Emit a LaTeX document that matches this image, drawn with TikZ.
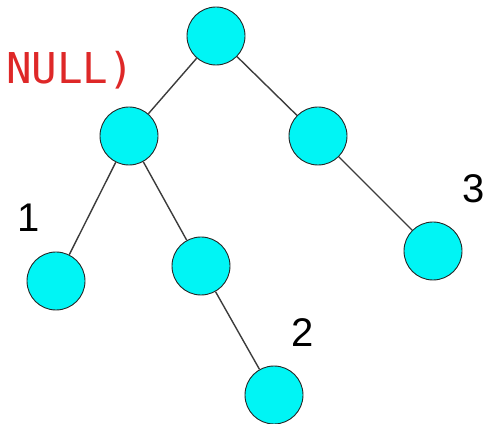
\documentclass[tikz,border=0pt]{standalone}
\usepackage{fontspec}
\setmainfont{Liberation Sans}
\newfontfamily\monofnt{DejaVu Sans Mono}
\definecolor{nodecyan}{RGB}{0,245,245}
\definecolor{nullred}{RGB}{222,40,40}
\definecolor{edgegray}{RGB}{60,60,60}
\begin{document}
\begin{tikzpicture}[x=1pt,y=1pt,
  tnode/.style={circle,draw=black!85,line width=0.9pt,fill=nodecyan,minimum size=58pt,inner sep=0pt},
  edge/.style={draw=edgegray,line width=1.4pt},
  numlbl/.style={font=\fontsize{40}{40}\selectfont,inner sep=0pt,text=black}]
\useasboundingbox (0,0) rectangle (495,423);
\node[tnode] (r) at (216,387) {};
\node[tnode] (a) at (129,287) {};
\node[tnode] (b) at (318,287) {};
\node[tnode] (c) at (56,142) {};
\node[tnode] (d) at (201,157) {};
\node[tnode] (e) at (274,28) {};
\node[tnode] (f) at (433,172) {};
\draw[edge] (r) -- (a);
\draw[edge] (r) -- (b);
\draw[edge] (a) -- (c);
\draw[edge] (a) -- (d);
\draw[edge] (d) -- (e);
\draw[edge] (b) -- (f);
\node[numlbl] (l1) at (29,205) {1};
\node[numlbl] (l2) at (303,90) {2};
\node[numlbl] (l3) at (474,234) {3};
\node[font=\monofnt\fontsize{42.5}{42.5}\selectfont,text=nullred,inner sep=0pt,anchor=west] (nl) at (6,353) {NULL)};
\end{tikzpicture}
\end{document}
